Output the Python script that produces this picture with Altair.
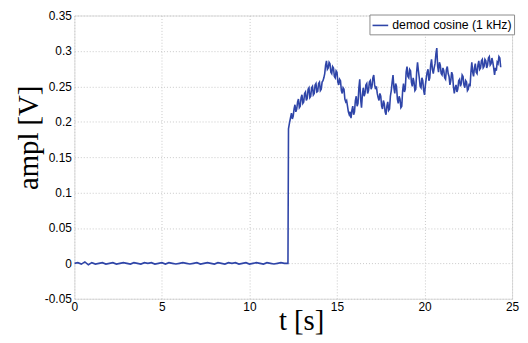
import altair as alt
import pandas as pd

# baseline (before the step), sampled every 0.2 s from 0 to 12.0
base_t = [round(i * 0.2, 1) for i in range(61)]
base_v = [0.000, 0.001, -0.001, 0.002, -0.002, 0.001, -0.001, 0.000, 0.001, -0.001,
          0.000, 0.001, -0.001, 0.000, 0.001, 0.000, -0.001, 0.001, 0.000, -0.001,
          0.001, 0.000, 0.001, -0.001, 0.000, 0.001, -0.001, 0.001, 0.000, -0.001,
          0.000, 0.001, 0.000, -0.001, 0.000, 0.001, -0.001, 0.000, 0.001, 0.000,
          -0.001, 0.001, 0.000, -0.001, 0.001, 0.000, 0.001, -0.001, 0.000, 0.001,
          -0.001, 0.000, 0.001, 0.000, -0.001, 0.001, 0.000, -0.001, 0.000, 0.001,
          0.000]

# after the step: (t, value) readings
signal = [
    (12.2, 0.000), (12.23, 0.190),
    (12.3, 0.200), (12.35, 0.206), (12.4, 0.212), (12.45, 0.204), (12.5, 0.208),
    (12.55, 0.218), (12.6, 0.224), (12.65, 0.214), (12.7, 0.218), (12.75, 0.228),
    (12.8, 0.232), (12.85, 0.220), (12.9, 0.222), (12.95, 0.234), (13.0, 0.238),
    (13.05, 0.226), (13.1, 0.228), (13.15, 0.240), (13.2, 0.242), (13.25, 0.230),
    (13.3, 0.233), (13.35, 0.246), (13.4, 0.248), (13.45, 0.234), (13.5, 0.236),
    (13.55, 0.248), (13.6, 0.250), (13.65, 0.238), (13.7, 0.240), (13.75, 0.252),
    (13.8, 0.254), (13.85, 0.242), (13.9, 0.243), (13.95, 0.254), (14.0, 0.256),
    (14.05, 0.244), (14.1, 0.246), (14.15, 0.256), (14.2, 0.258), (14.25, 0.262),
    (14.3, 0.268), (14.35, 0.280), (14.4, 0.286), (14.45, 0.274), (14.5, 0.276),
    (14.55, 0.284), (14.6, 0.282), (14.65, 0.270), (14.7, 0.268), (14.75, 0.278),
    (14.8, 0.276), (14.85, 0.264), (14.9, 0.262), (14.95, 0.272), (15.0, 0.270),
    (15.05, 0.256), (15.1, 0.252), (15.15, 0.260), (15.2, 0.258), (15.25, 0.244),
    (15.3, 0.240), (15.35, 0.248), (15.4, 0.246), (15.45, 0.232), (15.5, 0.228),
    (15.55, 0.230), (15.6, 0.222), (15.65, 0.214), (15.7, 0.210), (15.75, 0.214),
    (15.8, 0.205), (15.85, 0.216), (15.9, 0.222), (15.95, 0.210), (16.0, 0.214),
    (16.05, 0.230), (16.1, 0.236), (16.15, 0.222), (16.2, 0.226), (16.25, 0.248),
    (16.3, 0.260), (16.35, 0.232), (16.4, 0.220), (16.45, 0.238), (16.5, 0.248),
    (16.55, 0.236), (16.6, 0.240), (16.65, 0.252), (16.7, 0.254), (16.75, 0.240),
    (16.8, 0.244), (16.85, 0.256), (16.9, 0.258), (16.95, 0.246), (17.0, 0.250),
    (17.05, 0.262), (17.1, 0.266), (17.15, 0.252), (17.2, 0.246), (17.25, 0.250),
    (17.3, 0.240), (17.35, 0.234), (17.4, 0.230), (17.45, 0.240), (17.5, 0.236),
    (17.55, 0.222), (17.6, 0.218), (17.65, 0.230), (17.7, 0.226), (17.75, 0.214),
    (17.8, 0.210), (17.85, 0.222), (17.9, 0.228), (17.95, 0.216), (18.0, 0.218),
    (18.05, 0.236), (18.1, 0.244), (18.15, 0.256), (18.2, 0.266), (18.25, 0.248),
    (18.3, 0.240), (18.35, 0.254), (18.4, 0.250), (18.45, 0.232), (18.5, 0.226),
    (18.55, 0.236), (18.6, 0.232), (18.65, 0.220), (18.7, 0.222), (18.75, 0.244),
    (18.8, 0.254), (18.85, 0.242), (18.9, 0.246), (18.95, 0.270), (19.0, 0.278),
    (19.05, 0.264), (19.1, 0.262), (19.15, 0.274), (19.2, 0.272), (19.25, 0.256),
    (19.3, 0.250), (19.35, 0.262), (19.4, 0.256), (19.45, 0.244), (19.5, 0.246),
    (19.55, 0.270), (19.6, 0.284), (19.65, 0.272), (19.7, 0.262), (19.75, 0.250),
    (19.8, 0.248), (19.85, 0.262), (19.9, 0.258), (19.95, 0.244), (20.0, 0.238),
    (20.05, 0.252), (20.1, 0.262), (20.15, 0.270), (20.2, 0.274), (20.25, 0.258),
    (20.3, 0.262), (20.35, 0.280), (20.4, 0.288), (20.45, 0.274), (20.5, 0.268),
    (20.55, 0.276), (20.6, 0.282), (20.65, 0.296), (20.7, 0.304), (20.75, 0.278),
    (20.8, 0.270), (20.85, 0.284), (20.9, 0.280), (20.95, 0.268), (21.0, 0.266),
    (21.05, 0.276), (21.1, 0.272), (21.15, 0.262), (21.2, 0.260), (21.25, 0.274),
    (21.3, 0.278), (21.35, 0.268), (21.4, 0.264), (21.45, 0.252), (21.5, 0.258),
    (21.55, 0.270), (21.6, 0.266), (21.65, 0.250), (21.7, 0.240), (21.75, 0.248),
    (21.8, 0.252), (21.85, 0.242), (21.9, 0.246), (21.95, 0.258), (22.0, 0.260),
    (22.05, 0.250), (22.1, 0.254), (22.15, 0.266), (22.2, 0.264), (22.25, 0.252),
    (22.3, 0.248), (22.35, 0.258), (22.4, 0.256), (22.45, 0.244), (22.5, 0.246),
    (22.55, 0.254), (22.6, 0.250), (22.65, 0.270), (22.7, 0.284), (22.75, 0.270),
    (22.8, 0.264), (22.85, 0.276), (22.9, 0.282), (22.95, 0.270), (23.0, 0.268),
    (23.05, 0.280), (23.1, 0.286), (23.15, 0.274), (23.2, 0.276), (23.25, 0.286),
    (23.3, 0.288), (23.35, 0.276), (23.4, 0.278), (23.45, 0.288), (23.5, 0.286),
    (23.55, 0.276), (23.6, 0.280), (23.65, 0.290), (23.7, 0.292), (23.75, 0.280),
    (23.8, 0.282), (23.85, 0.290), (23.9, 0.284), (23.95, 0.276), (24.0, 0.266),
    (24.05, 0.276), (24.1, 0.272), (24.15, 0.284), (24.2, 0.282), (24.25, 0.292),
    (24.3, 0.290), (24.35, 0.277),
]
sig_t = [p[0] for p in signal]
sig_v = [p[1] for p in signal]

series_name = "demod cosine (1 kHz)"
x_ticks = [0, 5, 10, 15, 20, 25]
y_ticks = [-0.05, 0, 0.05, 0.1, 0.15, 0.2, 0.25, 0.3, 0.35]

df = pd.DataFrame({
    "t": base_t + sig_t,
    "v": base_v + sig_v,
    "series": [series_name] * (len(base_t) + len(sig_t)),
})

chart = alt.Chart(df).mark_line(strokeWidth=1.6, clip=True).encode(
    x=alt.X("t:Q",
            scale=alt.Scale(domain=[0, 25], nice=False),
            axis=alt.Axis(values=x_ticks, title="t [s]", titleFont="Liberation Serif",
                          titleFontSize=29, titleFontWeight="normal", titleColor="black",
                          titleX=229, titleY=31, titleBaseline="alphabetic", titleAlign="center",
                          labelFont="Liberation Sans", labelFontSize=12, labelColor="black",
                          labelPadding=3, tickSize=0, domain=False,
                          grid=True, gridDash=[1, 2], gridColor="#c8c8c8", labelFlush=False)),
    y=alt.Y("v:Q",
            scale=alt.Scale(domain=[-0.05, 0.35], nice=False),
            axis=alt.Axis(values=y_ticks, labelExpr="'' + datum.value", title="ampl [V]",
                          titleFont="Liberation Serif", titleFontSize=29,
                          titleFontWeight="normal", titleColor="black",
                          titleX=-37, titleY=123, titleAngle=-90, titleBaseline="alphabetic",
                          titleAlign="center",
                          labelFont="Liberation Sans", labelFontSize=12, labelColor="black",
                          labelPadding=3, tickSize=0, domain=False,
                          grid=True, gridDash=[1, 2], gridColor="#c8c8c8", labelFlush=False)),
    color=alt.Color("series:N", scale=alt.Scale(range=["#2f45a8"]),
                    legend=alt.Legend(title=None, orient="none", legendX=298, legendY=-1,
                                      symbolType="stroke", symbolSize=250, symbolStrokeWidth=1.6,
                                      labelFont="Liberation Sans", labelFontSize=12.4,
                                      labelColor="black", labelOffset=3,
                                      padding=2, strokeColor="#8c8c8c", fillColor="white")),
).properties(
    width=442,
    height=286,
    autosize=alt.AutoSizeParams(type="none"),
    padding={"left": 67, "top": 6, "right": 8, "bottom": 35},
).configure_view(stroke="#8c8c8c", strokeWidth=1).configure(background="white")

chart.save("out.html", embed_options={"renderer": "svg", "actions": False})
